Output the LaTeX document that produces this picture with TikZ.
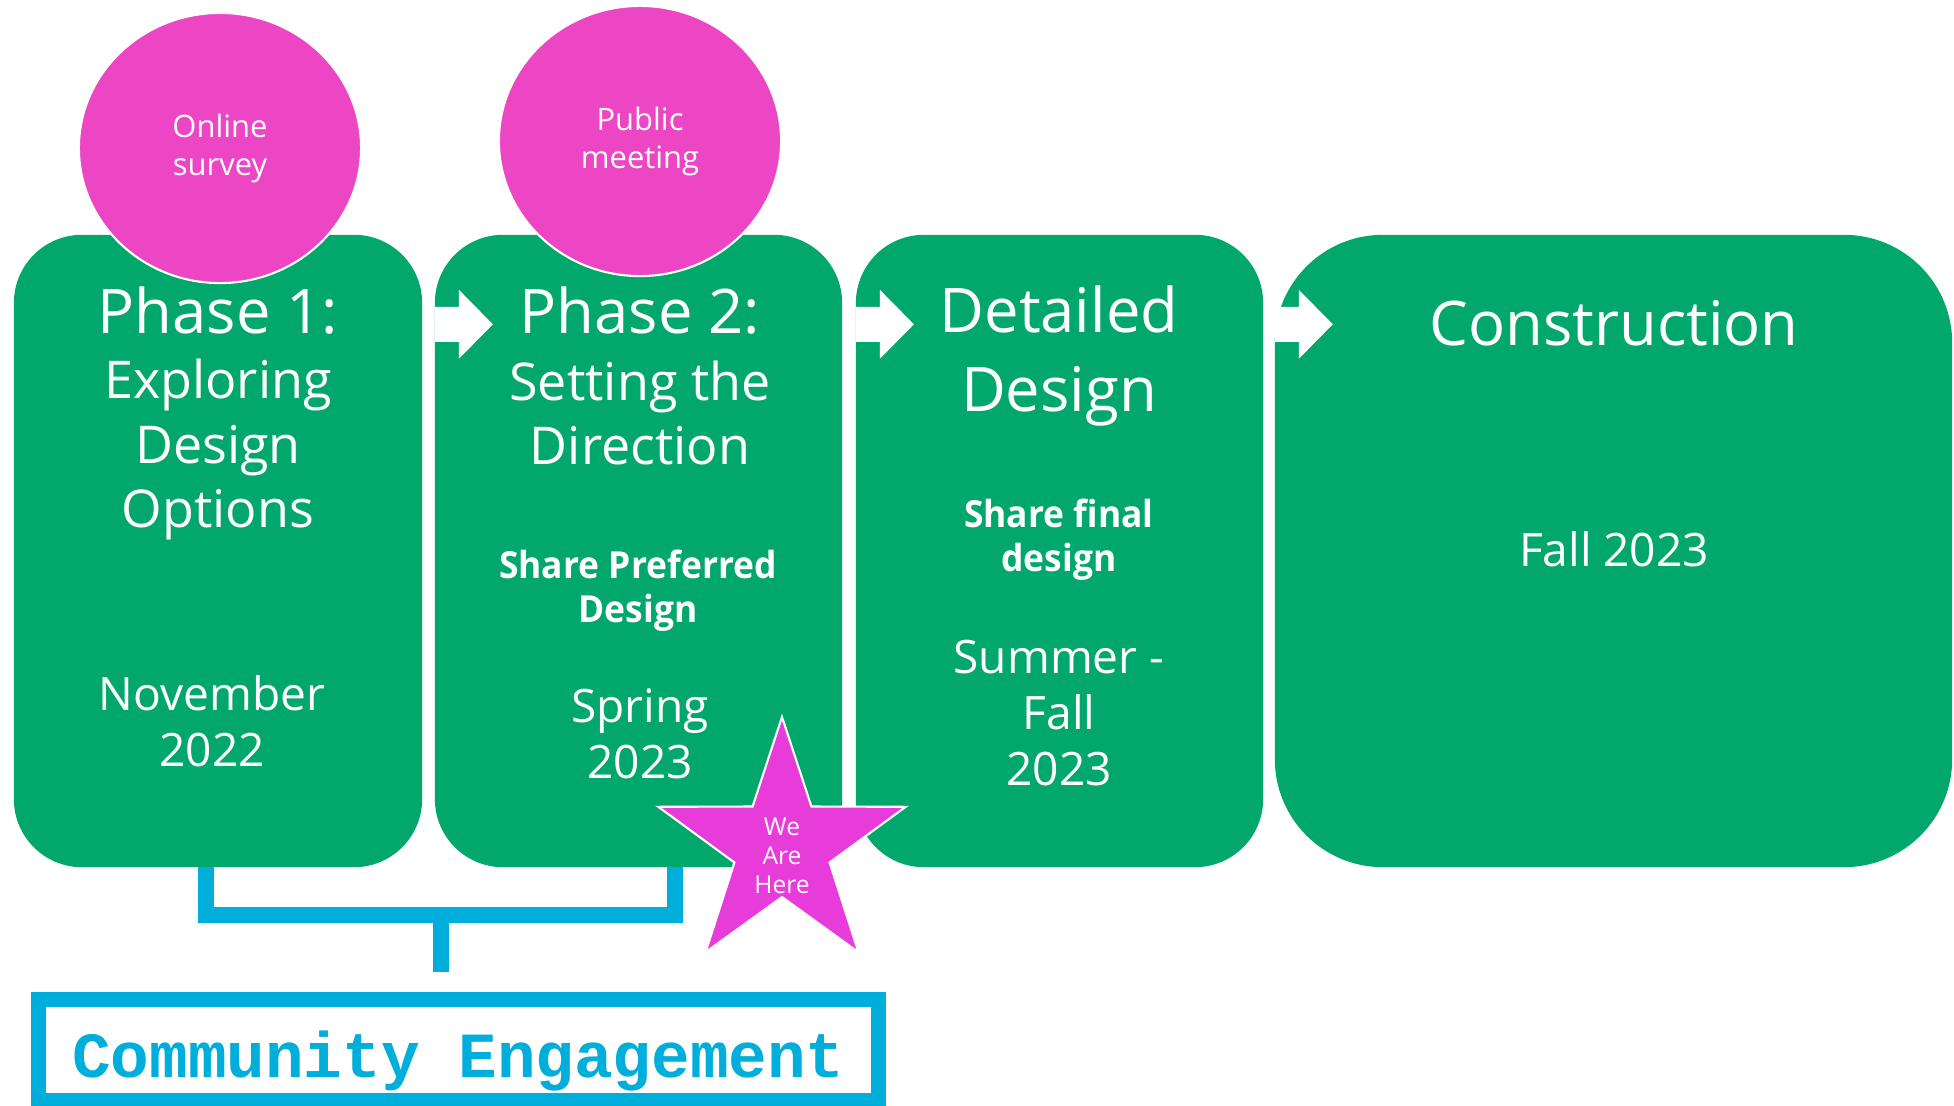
\documentclass[tikz,border=0pt]{standalone}
\usepackage{fontspec}
\setmainfont{Open Sans}[BoldFeatures={FakeStretch=0.95}]
\newfontfamily\cemono{Liberation Mono}
\usetikzlibrary{shapes.geometric,calc}
\definecolor{phasegreen}{RGB}{2,168,107}
\definecolor{bubblepink}{RGB}{236,70,197}
\definecolor{starpink}{RGB}{232,60,218}
\definecolor{ceblue}{RGB}{0,174,219}
\tikzset{
  phasebox/.style={rectangle, rounded corners=0.68cm, fill=phasegreen, minimum height=6.32cm, inner sep=0pt, outer sep=0pt},
  bubble/.style={ellipse, fill=bubblepink, draw=white, line width=0.6pt, minimum width=2.82cm, minimum height=2.70cm, inner sep=0pt, text=white, align=center, font=\fontsize{8.8}{10.8}\selectfont},
  headtext/.style={text=white, align=center, anchor=base, inner sep=0pt, font=\fontsize{17.5}{18.5}\selectfont},
  subtext/.style={text=white, align=center, anchor=base, inner sep=0pt, font=\fontsize{14.8}{18.2}\selectfont},
  datetext/.style={text=white, align=center, anchor=base, inner sep=0pt, font=\fontsize{13.1}{15.9}\selectfont},
  keytext/.style={text=white, align=center, anchor=base, inner sep=0pt, font=\bfseries\fontsize{10.6}{12.4}\selectfont},
  herestar/.style={star, star points=5, star point ratio=2.6, minimum size=2.6cm, inner sep=0pt, fill=starpink, draw=white, line width=0.6pt},
  startext/.style={text=white, align=center, inner sep=0pt, font=\fontsize{7}{8.25}\selectfont},
  bracket/.style={draw=ceblue, line width=0.16cm},
  cebox/.style={rectangle, draw=ceblue, line width=0.15cm, fill=white, minimum width=8.39cm, minimum height=1.0cm, text=ceblue, text height=0.54cm, text depth=0cm, font=\cemono\bfseries\fontsize{18.3}{20}\selectfont}
}
\begin{document}
\begin{tikzpicture}[x=0.01cm, y=-0.01cm]
	\useasboundingbox (0,0) rectangle (1954,1106);
	\fill[white] (0,0) rectangle (1954,1106);

	\node[phasebox, minimum width=4.08cm] (p1) at (218,551) {};
	\node[phasebox, minimum width=4.07cm] (p2) at (638.5,551) {};
	\node[phasebox, minimum width=4.07cm] (p3) at (1059.5,551) {};
	\node[phasebox, minimum width=6.77cm, rounded corners=1.08cm] (p4) at (1613.5,551) {};

	\foreach \b in {p2,p3,p4}
		\fill[white] ($(\b.north west)+(0,72)$) -- ++(24,0) -- ++(0,-17) -- ++(34,34.5)
			-- ++(-34,34.5) -- ++(0,-17) -- ++(-24,0) -- cycle;

	\node[headtext] (t1) at (218,333) {Phase 1:};
	\node[subtext] (u1) at (218,527) {Exploring\\Design\\Options};
	\node[headtext] (t2) at (640,333) {Phase 2:};
	\node[subtext] (u2) at (640,464) {Setting the\\Direction};
	\node[headtext, font=\fontsize{17.5}{22.2}\selectfont] (t3) at (1059,411) {Detailed\\Design};
	\node[headtext] (t4) at (1614,345) {Construction};

	\node[keytext] (k2) at (638,622) {Share Preferred\\Design};
	\node[keytext] (k3) at (1059,571) {Share final\\design};

	\node[datetext] (d1) at (212,766) {November\\2022};
	\node[datetext] (d2) at (640,778) {Spring\\2023};
	\node[datetext] (d3) at (1059,785) {Summer -\\Fall\\2023};
	\node[datetext] (d4) at (1614,566) {Fall 2023};

	\node[bubble] (s1) at (220,148) {Online\\survey};
	\node[bubble] (s2) at (640,141) {Public\\meeting};

	\node[herestar] (star) at (782,847) {};
	\node[startext] (h) at ([yshift=-0.09cm]star.center) {We\\Are\\Here};

	\node[cebox] (ce) at (458.5,1050) {Community Engagement};

	\coordinate (j) at (441,915);
	\draw[bracket] ([xshift=-0.12cm]p1.south) |- (j) -| ([xshift=0.365cm]p2.south);
	\draw[bracket] (j) -- ([yshift=0.2cm]ce.north -| j);

\end{tikzpicture}
\end{document}
